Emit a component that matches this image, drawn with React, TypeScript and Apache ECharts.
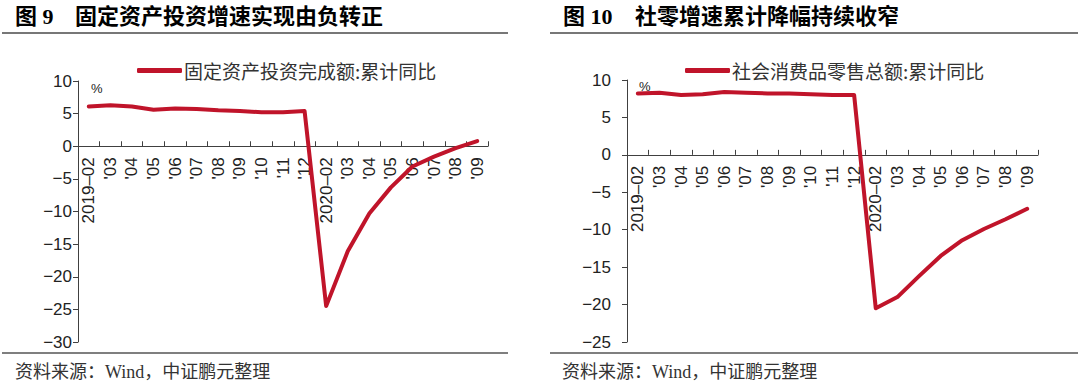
import React, { useEffect, useRef } from "react";
import * as echarts from "echarts";

const categories = [
  "2019–02", "'03", "'04", "'05", "'06", "'07", "'08", "'09", "'10", "'11", "'12",
  "2020–02", "'03", "'04", "'05", "'06", "'07", "'08", "'09",
];
const fixedAssetName = "固定资产投资完成额:累计同比";
const fixedAsset = [6.1, 6.3, 6.1, 5.6, 5.8, 5.7, 5.5, 5.4, 5.2, 5.2, 5.4, -24.5, -16.1, -10.3, -6.3, -3.1, -1.6, -0.3, 0.8];
const retailName = "社会消费品零售总额:累计同比";
const retail = [8.2, 8.3, 8.0, 8.1, 8.4, 8.3, 8.2, 8.2, 8.1, 8.0, 8.0, -20.5, -19.0, -16.2, -13.5, -11.4, -9.9, -8.6, -7.2];

const RED = "#C0142A";
const AXIS = "#404040";
const SANS = "'Liberation Sans', Arial, 'Noto Sans CJK SC'";
const CJK = "'Noto Sans CJK SC', 'Liberation Sans'";
const TITLE_FONT = "'Liberation Serif', 'Noto Sans CJK SC'";

const fmt = (v: number) => String(v).replace("-", "−");

// grid geometry
const G1 = { left: 78, top: 81, width: 410, height: 261, min: -30, max: 10 };
const G2 = { left: 627, top: 80, width: 411, height: 262, min: -25, max: 10 };
const zeroOffset = (g: typeof G1) => -(g.height * (0 - g.min)) / (g.max - g.min);

function xAxis(gridIndex: number, offset: number) {
  return {
    type: "category",
    gridIndex,
    data: categories,
    boundaryGap: true,
    position: "bottom",
    offset,
    axisLine: { onZero: false, lineStyle: { color: AXIS, width: 1 } },
    axisTick: { show: true, inside: true, length: 5, interval: 0, lineStyle: { color: AXIS } },
    axisLabel: {
      interval: 0,
      rotate: 90,
      margin: 11,
      fontSize: 17,
      fontFamily: SANS,
      color: "#222",
    },
  };
}

function yAxis(gridIndex: number, g: typeof G1, margin: number) {
  return {
    type: "value",
    gridIndex,
    min: g.min,
    max: g.max,
    interval: 5,
    splitLine: { show: false },
    axisLine: { show: true, onZero: false, lineStyle: { color: AXIS, width: 1 } },
    axisTick: { show: true, inside: false, length: 5, lineStyle: { color: AXIS } },
    axisLabel: { fontSize: 17, fontFamily: SANS, color: "#222", margin, formatter: fmt },
  };
}

export default function App() {
  const ref = useRef<HTMLDivElement>(null);
  useEffect(() => {
    if (!ref.current) return;
    const chart = echarts.init(ref.current, undefined, { renderer: "svg" });
    const legendBase = {
      icon: "roundRect",
      itemWidth: 45,
      itemHeight: 5,
      itemGap: 4,
      top: 56,
      textStyle: { fontSize: 19, fontFamily: CJK, color: "#333", padding: [0, 0, 0, -3] },
    };
    const option: any = {
      animation: false,
      backgroundColor: "#fff",
      grid: [
        { left: G1.left, top: G1.top, width: G1.width, height: G1.height },
        { left: G2.left, top: G2.top, width: G2.width, height: G2.height },
      ],
      xAxis: [xAxis(0, zeroOffset(G1)), xAxis(1, zeroOffset(G2))],
      yAxis: [yAxis(0, G1, 6), yAxis(1, G2, 16)],
      legend: [
        { ...legendBase, data: [fixedAssetName], left: 132 },
        { ...legendBase, data: [retailName], left: 680 },
      ],
      series: [
        {
          name: fixedAssetName,
          type: "line",
          xAxisIndex: 0,
          yAxisIndex: 0,
          data: fixedAsset,
          symbol: "none",
          lineStyle: { color: RED, width: 4, join: "round", cap: "round" },
          itemStyle: { color: RED },
        },
        {
          name: retailName,
          type: "line",
          xAxisIndex: 1,
          yAxisIndex: 1,
          data: retail,
          symbol: "none",
          lineStyle: { color: RED, width: 4, join: "round", cap: "round" },
          itemStyle: { color: RED },
        },
      ],
      graphic: [
        { type: "text", x: 15, y: 16, style: { text: "图 9", fontSize: 22, fontWeight: "bold", fontFamily: TITLE_FONT, fill: "#000", verticalAlign: "middle" } },
        { type: "text", x: 75, y: 16, style: { text: "固定资产投资增速实现由负转正", fontSize: 22, fontWeight: "bold", fontFamily: TITLE_FONT, fill: "#000", verticalAlign: "middle" } },
        { type: "text", x: 563, y: 16, style: { text: "图 10", fontSize: 22, fontWeight: "bold", fontFamily: TITLE_FONT, fill: "#000", verticalAlign: "middle" } },
        { type: "text", x: 635, y: 16, style: { text: "社零增速累计降幅持续收窄", fontSize: 22, fontWeight: "bold", fontFamily: TITLE_FONT, fill: "#000", verticalAlign: "middle" } },
        { type: "line", shape: { x1: 2, y1: 33, x2: 508, y2: 33 }, style: { stroke: "#777", lineWidth: 2 } },
        { type: "line", shape: { x1: 550, y1: 33, x2: 1078, y2: 33 }, style: { stroke: "#777", lineWidth: 2 } },
        { type: "line", shape: { x1: 2, y1: 353, x2: 508, y2: 353 }, style: { stroke: "#555", lineWidth: 1.5 } },
        { type: "line", shape: { x1: 550, y1: 353, x2: 1078, y2: 353 }, style: { stroke: "#555", lineWidth: 1.5 } },
        { type: "text", x: 15, y: 372, style: { text: "资料来源：Wind，中证鹏元整理", fontSize: 18, fontFamily: TITLE_FONT, fill: "#333", verticalAlign: "middle" } },
        { type: "text", x: 562, y: 372, style: { text: "资料来源：Wind，中证鹏元整理", fontSize: 18, fontFamily: TITLE_FONT, fill: "#333", verticalAlign: "middle" } },
        { type: "text", x: 91, y: 88, style: { text: "%", fontSize: 13, fontFamily: SANS, fill: "#222", verticalAlign: "middle" } },
        { type: "text", x: 639, y: 86, style: { text: "%", fontSize: 13, fontFamily: SANS, fill: "#222", verticalAlign: "middle" } },
      ],
    };
    chart.setOption(option);
    return () => chart.dispose();
  }, []);
  return (
    <div
      ref={ref}
      style={{ position: "fixed", left: 0, top: 0, width: 1080, height: 388, background: "#fff" }}
    />
  );
}
